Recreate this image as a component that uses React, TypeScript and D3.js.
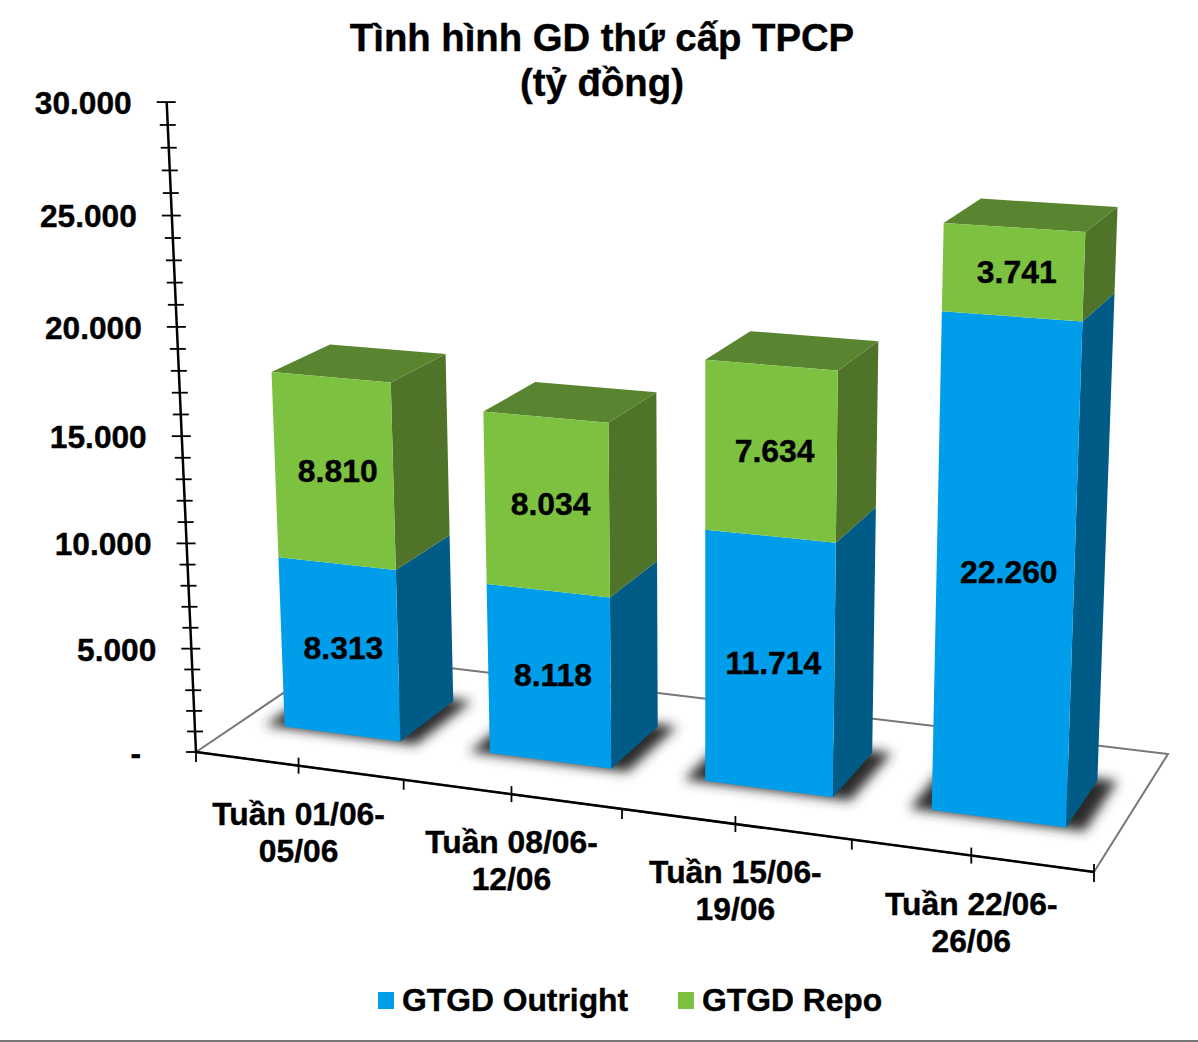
import * as d3 from "d3";

const categories = [
  ["Tuần 01/06-", "05/06"],
  ["Tuần 08/06-", "12/06"],
  ["Tuần 15/06-", "19/06"],
  ["Tuần 22/06-", "26/06"],
];
const outright = [8313, 8118, 11714, 22260];
const repo = [8810, 8034, 7634, 3741];
const seriesNames = ["GTGD Outright", "GTGD Repo"];
const titleLines = ["Tình hình GD thứ cấp TPCP", "(tỷ đồng)"];

const width = 1198;
const height = 1042;
const FONT = "'Liberation Sans', Arial, sans-serif";

const BLUE = { front: "#009eea", side: "#005b86" };
const GREEN = { front: "#7cc240", side: "#4f7329", top: "#5a8530" };

// camera fitted on the picture: X = category axis 0-4, Y = value/1000, Z = floor depth 0-1
const project = (X: number, Y: number, Z: number): [number, number] => {
  const w = 1 - 0.02436 * X - 0.00182 * Y + 0.093 * Z;
  return [
    (196 + 197.85 * X - 1.28 * Y + 175.4 * Z) / w,
    (752 + 8.75 * X - 21.85 * Y - 36.3 * Z) / w,
  ];
};

const x = d3
  .scaleBand<number>()
  .domain(d3.range(categories.length))
  .range([0, categories.length])
  .paddingInner(0.43)
  .paddingOuter(0.215);
const y = d3.scaleLinear().domain([0, 30000]).range([0, 30]);

const Z_FRONT = 0.3;
const Z_BACK = 0.7;

const poly = d3.line();
const fmt = d3.formatLocale({
  decimal: ",",
  thousands: ".",
  grouping: [3],
  currency: ["", ""],
}).format(",d");

const quad = (x0: number, x1: number, v0: number, v1: number, z0: number, z1: number) =>
  poly([
    project(x0, y(v0), z0),
    project(x1, y(v0), z1),
    project(x1, y(v1), z1),
    project(x0, y(v1), z0),
  ])! + "Z";

const roof = (x0: number, x1: number, v: number) =>
  poly([
    project(x0, y(v), Z_FRONT),
    project(x1, y(v), Z_FRONT),
    project(x1, y(v), Z_BACK),
    project(x0, y(v), Z_BACK),
  ])! + "Z";

export default function App() {
  const minorTicks = d3.range(0, 31000, 1000);
  const majorTicks = d3.range(0, 31000, 5000);
  const xTicks = d3.range(0, 4.5, 0.5);

  return (
    <svg
      width={width}
      height={height}
      viewBox={`0 0 ${width} ${height}`}
      style={{ position: "fixed", left: 0, top: 0, display: "block", background: "#fff" }}
      fontFamily={FONT}
      fontWeight="bold"
    >
      <defs>
        <filter id="shadow" x="-30%" y="-60%" width="160%" height="220%">
          <feGaussianBlur stdDeviation="6" />
        </filter>
      </defs>

      {titleLines.map((t, i) => (
        <text
          key={t}
          x={602}
          y={51 + i * 45}
          textAnchor="middle"
          fontSize={38.3}
          stroke="#000"
          strokeWidth={0.4}
        >
          {t}
        </text>
      ))}

      {/* floor */}
      <path
        d={
          poly([project(0, 0, 0), project(4, 0, 0), project(4, 0, 1), project(0, 0, 1)])! + "Z"
        }
        fill="#fff"
        stroke="#777"
        strokeWidth={2}
      />

      {/* shadows */}
      {categories.map((_, i) => {
        const x0 = x(i)! - 0.09;
        const x1 = x(i)! + x.bandwidth() + 0.08;
        return (
          <path
            key={i}
            d={
              poly([
                project(x0, 0, Z_FRONT - 0.01),
                project(x1, 0, Z_FRONT - 0.01),
                project(x1, 0, Z_BACK + 0.02),
                project(x0, 0, Z_BACK + 0.02),
              ])! + "Z"
            }
            fill="#2a2a2a"
            filter="url(#shadow)"
          />
        );
      })}

      {/* y axis */}
      <g stroke="#000">
        <line
          x1={project(0, 0, 0)[0]}
          y1={project(0, 0, 0)[1]}
          x2={project(0, 30, 0)[0]}
          y2={project(0, 30, 0)[1]}
          strokeWidth={2.5}
        />
        {minorTicks.map((v) => {
          const [px, py] = project(0, y(v), 0);
          const major = v % 5000 === 0;
          return (
            <line
              key={v}
              x1={px - (major ? 10 : 8)}
              x2={v === 0 ? px : px + (major ? 9 : 8)}
              y1={py}
              y2={py}
              strokeWidth={1.8}
            />
          );
        })}
        {/* x axis */}
        <line
          x1={project(0, 0, 0)[0]}
          y1={project(0, 0, 0)[1]}
          x2={project(4, 0, 0)[0]}
          y2={project(4, 0, 0)[1]}
          strokeWidth={2.5}
        />
        {xTicks.map((t) => {
          const [px, py] = project(t, 0, 0);
          const mid = t % 1 !== 0;
          return (
            <line
              key={t}
              x1={px}
              x2={px}
              y1={mid || t === 4 ? py - 8 : py}
              y2={py + (t === 4 ? 10 : mid ? 8 : 10)}
              strokeWidth={1.8}
            />
          );
        })}
      </g>

      <g stroke="#000" strokeWidth={0.4}>
        {majorTicks.map((v) => {
          const [px, py] = project(0, y(v), 0);
          return (
            <text
              key={v}
              x={v === 0 ? px - 55 : px - 35}
              y={py + 0.5}
              dy="0.36em"
              textAnchor="end"
              fontSize={31.7}
            >
              {v === 0 ? "-" : fmt(v)}
            </text>
          );
        })}
      </g>

      {/* bars */}
      {categories.map((_, i) => {
        const x0 = x(i)!;
        const x1 = x0 + x.bandwidth();
        const total = outright[i] + repo[i];
        return (
          <g key={i}>
            <path d={quad(x1, x1, 0, outright[i], Z_FRONT, Z_BACK)} fill={BLUE.side} />
            <path d={quad(x1, x1, outright[i], total, Z_FRONT, Z_BACK)} fill={GREEN.side} />
            <path d={roof(x0, x1, total)} fill={GREEN.top} />
            <path d={quad(x0, x1, 0, outright[i], Z_FRONT, Z_FRONT)} fill={BLUE.front} />
            <path d={quad(x0, x1, outright[i], total, Z_FRONT, Z_FRONT)} fill={GREEN.front} />
          </g>
        );
      })}

      {/* value labels */}
      {categories.map((_, i) => {
        const c = x(i)! + x.bandwidth() / 2;
        const a = project(c, y(outright[i] / 2), Z_FRONT);
        const b = project(c, y(outright[i] + repo[i] / 2), Z_FRONT);
        return (
          <g key={i} fontSize={31.9} textAnchor="middle" stroke="#000" strokeWidth={0.4}>
            <text x={a[0] + 4} y={a[1]} dy="0.3em">
              {fmt(outright[i])}
            </text>
            <text x={b[0] + 4} y={b[1]} dy="0.33em">
              {fmt(repo[i])}
            </text>
          </g>
        );
      })}

      {/* category labels */}
      {categories.map((lines, i) => {
        const [px, py] = project(i + 0.5, 0, 0);
        return (
          <text
            key={i}
            x={px}
            y={py + 59}
            textAnchor="middle"
            fontSize={31.8}
            stroke="#000"
            strokeWidth={0.4}
          >
            {lines.map((l, j) => (
              <tspan key={l} x={px} dy={j === 0 ? 0 : 37}>
                {l}
              </tspan>
            ))}
          </text>
        );
      })}

      {/* legend */}
      {seriesNames.map((name, i) => {
        const lx = [378, 678][i];
        return (
          <g key={name}>
            <rect x={lx} y={992} width={16} height={17} fill={i === 0 ? BLUE.front : GREEN.front} />
            <text x={lx + 24} y={1011} fontSize={31.8} stroke="#000" strokeWidth={0.4}>
              {name}
            </text>
          </g>
        );
      })}

      <rect x={0} y={1040} width={width} height={2} fill="#777" />
    </svg>
  );
}
